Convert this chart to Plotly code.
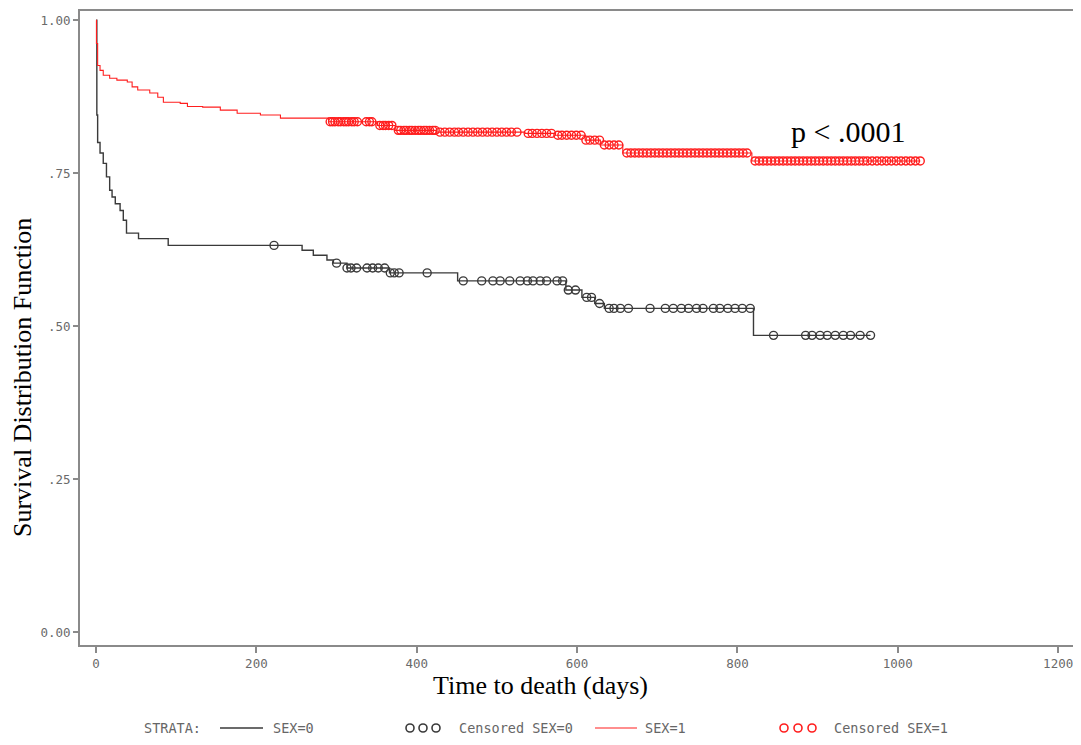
import numpy as np
import plotly.graph_objects as go

# ---------------- data ----------------
# Kaplan-Meier step points: time (days) and survival after the step
sex0_time = [0, 1, 2, 5, 9, 13, 17, 20, 24, 30, 34, 38, 53, 90, 257, 271, 288, 296,
             313, 366, 451, 586, 606, 622, 634, 820]
sex0_surv = [1.0, 0.845, 0.800, 0.783, 0.766, 0.744, 0.722, 0.711, 0.700, 0.689, 0.673,
             0.652, 0.643, 0.632, 0.624, 0.616, 0.608, 0.603, 0.595, 0.587, 0.574, 0.559,
             0.547, 0.537, 0.529, 0.485]
sex0_censored = [222, 300, 313, 318, 325, 338, 345, 352, 360, 367, 372, 378, 413, 458,
                 481, 495, 504, 516, 529, 538, 545, 554, 562, 575, 582, 589, 598, 612,
                 618, 628, 640, 646, 654, 664, 691, 710, 720, 730, 739, 749, 757, 770,
                 778, 788, 797, 806, 816, 845, 885, 893, 903, 912, 922, 932, 941, 953,
                 966]

sex1_time = [0, 0.5, 2, 5, 9, 17, 26, 39, 45, 52, 67, 77, 84, 105, 114, 133, 155, 176,
             205, 230, 290, 351, 373, 425, 535, 573, 610, 629, 657, 818]
sex1_surv = [1.0, 0.962, 0.926, 0.918, 0.910, 0.905, 0.902, 0.899, 0.891, 0.886, 0.881,
             0.874, 0.866, 0.864, 0.859, 0.858, 0.853, 0.848, 0.845, 0.840, 0.834, 0.828,
             0.820, 0.817, 0.815, 0.812, 0.804, 0.796, 0.783, 0.770]
sex1_censored = [292, 295, 298, 302, 305, 309, 312, 315, 319, 322, 326, 337, 341, 344,
                 354, 358, 361, 365, 369, 377, 380, 384, 387, 391, 394, 398, 402, 405,
                 409, 412, 416, 420, 423, 429, 435, 441, 447, 452, 458, 464, 470, 476,
                 482, 488, 494, 500, 506, 512, 518, 525, 539, 544, 550, 556, 562, 568,
                 576, 581, 587, 593, 599, 605, 611, 616, 622, 628, 634, 640, 646, 652,
                 662, 667, 672, 677, 682, 687, 692, 697, 702, 707, 712, 717, 722, 727,
                 732, 737, 742, 747, 752, 757, 762, 767, 772, 777, 782, 787, 792, 797,
                 802, 807, 812, 822, 827, 832, 837, 842, 847, 852, 857, 862, 867, 872,
                 877, 882, 887, 892, 897, 902, 907, 912, 917, 922, 927, 932, 937, 942,
                 947, 952, 957, 962, 968, 974, 980, 986, 992, 998, 1004, 1010, 1016,
                 1022, 1028]

x_ticks = [0, 200, 400, 600, 800, 1000, 1200]
y_ticks = [0.0, 0.25, 0.5, 0.75, 1.0]
y_tick_text = ["0.00", ".25", ".50", ".75", "1.00"]

x_title = "Time to death (days)"
y_title = "Survival Distribution Function"
p_text = "p < .0001"
legend_title = "STRATA:"
legend_labels = ["SEX=0", "Censored SEX=0", "SEX=1", "Censored SEX=1"]

# ---------------- helpers ----------------
def surv_at(times, steps, survs):
    steps = np.asarray(steps, float)
    survs = np.asarray(survs, float)
    idx = np.searchsorted(steps, np.asarray(times, float), side="right") - 1
    return survs[idx]

BLACK = "#3a3a3a"
RED = "#ff1e1e"

fig = go.Figure()

for times, survs, cens, col, lw, ms in [
    (sex0_time, sex0_surv, sex0_censored, BLACK, 1.4, 8),
    (sex1_time, sex1_surv, sex1_censored, RED, 1.1, 8),
]:
    xs = list(times) + [max(cens)]
    ys = list(survs) + [survs[-1]]
    fig.add_trace(go.Scatter(x=xs, y=ys, mode="lines", line=dict(color=col, width=lw, shape="hv"),
                             showlegend=False, hoverinfo="skip"))
    fig.add_trace(go.Scatter(x=cens, y=surv_at(cens, times, survs), mode="markers",
                             marker=dict(symbol="circle-open", size=ms, color=col,
                                         line=dict(width=1.4, color=col)),
                             showlegend=False))

# The page body has an 8px margin, so the figure is drawn 8px right/down.
OFF = 8
W, H = 1081 - OFF, 745 - OFF
L, R, T, B = 80 - OFF, 6, 11 - OFF, 100
PW, PH = W - L - R, H - T - B

def px(xp):  # page pixel -> paper x
    return (xp - OFF - L) / PW

def py(yp):  # page pixel -> paper y
    return (H - B - (yp - OFF)) / PH

tick_font = dict(family="DejaVu Sans Mono", size=12.5, color="#6a6a6a")
AX = "#8a8a8a"

fig.update_xaxes(range=[-20, 1221], tickvals=x_ticks, ticks="outside", ticklen=6,
                 tickcolor=AX, tickwidth=1.5, showline=True, linecolor=AX, linewidth=2,
                 mirror=True, showgrid=False, zeroline=False, tickfont=tick_font,
                 automargin=False)
fig.update_yaxes(range=[-0.021, 1.015], tickvals=y_ticks, ticktext=y_tick_text,
                 ticks="outside", ticklen=5, tickcolor=AX, tickwidth=1.5, showline=True,
                 linecolor=AX, linewidth=2, mirror=True, showgrid=False, zeroline=False,
                 tickfont=tick_font, automargin=False)

serif = "Liberation Serif"
ann = [
    dict(text=y_title, x=px(23), y=py(378), textangle=-90, showarrow=False,
         font=dict(family=serif, size=26, color="black"), xanchor="center", yanchor="middle"),
    dict(text=x_title, x=px(540), y=py(685), showarrow=False,
         font=dict(family=serif, size=26, color="black"), xanchor="center", yanchor="middle"),
    dict(text=p_text, x=px(848), y=py(131), showarrow=False,
         font=dict(family=serif, size=30, color="black"), xanchor="center", yanchor="middle"),
]
leg_font = dict(family="DejaVu Sans Mono", size=13.5, color="#666666")
ly = py(728)
ann += [
    dict(text=legend_title, x=px(142), y=ly, xanchor="left", yanchor="middle", showarrow=False, font=leg_font),
    dict(text=legend_labels[0], x=px(271), y=ly, xanchor="left", yanchor="middle", showarrow=False, font=leg_font),
    dict(text=legend_labels[1], x=px(457), y=ly, xanchor="left", yanchor="middle", showarrow=False, font=leg_font),
    dict(text=legend_labels[2], x=px(643), y=ly, xanchor="left", yanchor="middle", showarrow=False, font=leg_font),
    dict(text=legend_labels[3], x=px(832), y=ly, xanchor="left", yanchor="middle", showarrow=False, font=leg_font),
]
for a in ann:
    a.update(xref="paper", yref="paper")

shapes = [
    dict(type="line", xref="paper", yref="paper", x0=px(220), x1=px(263), y0=ly, y1=ly,
         line=dict(color=BLACK, width=1.5)),
    dict(type="line", xref="paper", yref="paper", x0=px(595), x1=px(637), y0=ly, y1=ly,
         line=dict(color=RED, width=1.2)),
]
for cx0, col in [(410, BLACK), (423, BLACK), (436, BLACK), (784, RED), (798, RED), (812, RED)]:
    shapes.append(dict(type="circle", xref="paper", yref="paper",
                       x0=px(cx0 - 4), x1=px(cx0 + 4), y0=py(728 - 4), y1=py(728 + 4),
                       line=dict(color=col, width=1.6)))

fig.update_layout(width=W, height=H, margin=dict(l=L, r=R, t=T, b=B),
                  plot_bgcolor="white", paper_bgcolor="white",
                  annotations=ann, shapes=shapes)

fig.write_html("out.html")
